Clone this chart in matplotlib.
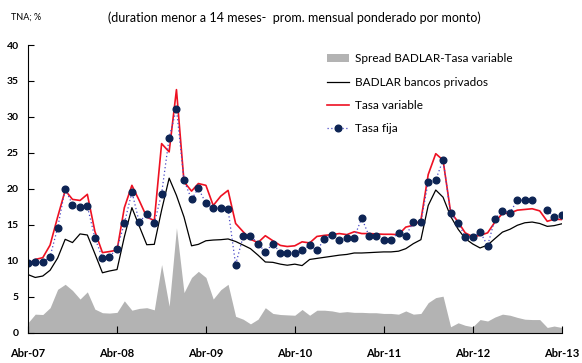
import numpy as np
import pandas as pd
import matplotlib
matplotlib.use("Agg")
import matplotlib.pyplot as plt

plt.rcParams['font.family'] = ['Lato', 'DejaVu Sans']

# monthly series, Abr-07 .. Abr-13
fechas = pd.date_range("2007-04-01", "2013-04-01", freq="MS")

tasa_fija = [9.7, 9.8, 9.8, 10.6, 14.6, 20.0, 17.8, 17.5, 17.6, 13.2, 10.4, 10.6,
             11.7, 15.2, 19.6, 15.4, 16.5, 15.2, 19.35, 27.1, 31.15, 21.2, 18.55, 20.1,
             18.0, 17.35, 17.3, 17.15, 9.5, 13.4, 13.5, 12.4, 11.25, 12.4, 11.15, 11.15,
             11.05, 11.5, 12.15, 11.45, 13.05, 13.6, 12.9, 13.25, 13.25, 15.95, 13.4, 13.4,
             12.95, 12.95, 13.9, 13.5, 15.4, 15.4, 21.0, 21.25, 24.05, 16.6, 15.3, 13.35,
             13.35, 14.05, 12.1, 15.85, 17.0, 16.7, 18.45, 18.4, 18.45, np.nan, 17.05, 16.05,
             16.35]

tasa_variable = [9.5, 10.2, 10.45, 12.2, 16.1, 19.8, 18.55, 18.4, 19.25, 14.1, 11.15, 11.3,
                 11.5, 17.4, 20.5, 18.4, 16.1, 15.6, 26.3, 25.15, 33.8, 21.0, 19.7, 20.75,
                 20.5, 17.7, 19.0, 19.8, 15.2, 14.05, 13.0, 12.55, 13.5, 12.8, 12.15, 12.0,
                 12.1, 12.65, 12.5, 13.4, 13.55, 13.65, 13.8, 13.65, 14.05, 13.8, 13.8, 13.75,
                 13.7, 13.7, 13.65, 14.7, 14.95, 15.65, 22.0, 24.9, 24.0, 16.8, 15.4, 13.9,
                 13.35, 13.55, 13.9, 15.4, 16.6, 16.65, 17.05, 17.15, 17.25, 16.95, 15.5, 15.8,
                 15.75]

badlar = [8.1, 7.7, 7.9, 8.7, 10.4, 13.0, 12.55, 13.75, 13.6, 11.0, 8.35, 8.6,
          8.8, 13.35, 17.4, 14.85, 12.25, 12.3, 17.05, 21.5, 19.1, 16.1, 12.1, 12.3,
          12.8, 12.9, 12.95, 13.05, 12.7, 12.2, 11.7, 10.8, 9.85, 9.8, 9.55, 9.4,
          9.55, 9.35, 10.2, 10.35, 10.5, 10.65, 10.8, 10.9, 11.1, 11.1, 11.15, 11.2,
          11.25, 11.25, 11.35, 11.7, 12.4, 12.95, 17.7, 19.85, 18.85, 16.2, 14.4, 13.1,
          12.35, 11.8, 12.2, 13.1, 14.0, 14.4, 14.95, 15.3, 15.4, 15.2, 14.8, 14.9,
          15.15]

spread = [1.4, 2.6, 2.55, 3.5, 6.05, 6.75, 5.9, 4.7, 5.7, 3.3, 2.8, 2.75,
          2.85, 4.45, 3.15, 3.4, 3.5, 3.2, 9.5, 3.7, 14.6, 5.6, 7.7, 8.55,
          7.7, 4.7, 6.0, 6.75, 2.3, 1.9, 1.25, 1.9, 3.5, 2.7, 2.55, 2.5,
          2.45, 3.25, 2.45, 3.15, 3.15, 3.05, 2.85, 2.95, 2.85, 2.85, 2.8, 2.8,
          2.7, 2.7, 2.6, 3.05, 2.6, 2.7, 4.2, 4.9, 5.1, 0.85, 1.4, 1.05,
          0.85, 1.85, 1.65, 2.2, 2.6, 2.45, 2.15, 1.9, 1.85, 1.85, 0.75, 0.95,
          0.75]

tick_fechas = pd.date_range("2007-04-01", "2013-04-01", freq="12MS")
tick_labels = ["Abr-07", "Abr-08", "Abr-09", "Abr-10", "Abr-11", "Abr-12", "Abr-13"]

fig = plt.figure(figsize=(5.82, 3.63), dpi=100)
ax = fig.add_axes([0.048, 0.083, 0.917, 0.793])

ax.fill_between(fechas, 0, spread, color='#b3b3b3', lw=0, label='Spread BADLAR-Tasa variable')
ax.plot(fechas, badlar, color='black', lw=0.9, label='BADLAR bancos privados')
ax.plot(fechas, tasa_variable, color='#ee1122', lw=1.2, label='Tasa variable')
ax.plot(fechas, tasa_fija, color='#4a4ac8', lw=0.9, ls=(0, (1, 2)),
        marker='o', ms=4.8, mfc='#0d2454', mec='#0d2454', label='Tasa fija')

ax.set_xlim(fechas[0], fechas[-1])
ax.set_ylim(0, 40)
ax.set_yticks(range(0, 41, 5))
ax.set_xticks(tick_fechas)
ax.set_xticklabels(tick_labels)

for s in ['top', 'right']:
    ax.spines[s].set_visible(False)
ax.spines['left'].set_linewidth(0.8)
ax.spines['bottom'].set_linewidth(0.8)
ax.tick_params(axis='y', direction='in', length=4, width=0.8, pad=6.5, labelsize=7.5)
ax.tick_params(axis='x', direction='in', length=5, width=0.8, pad=11, labelsize=8)
for lab in ax.get_xticklabels() + ax.get_yticklabels():
    lab.set_fontweight('bold')

ax.legend(loc='upper left', bbox_to_anchor=(0.545, 1.0), frameon=False,
          fontsize=8.5, labelspacing=1.05, handlelength=1.9, handletextpad=0.45,
          borderaxespad=0.3)

fig.text(0.019, 0.952, "TNA; %", fontsize=6.5, va='center')
fig.text(0.505, 0.952, "(duration menor a 14 meses-  prom. mensual ponderado por monto)",
         fontsize=9, ha='center', va='center')

fig.savefig("out.png", dpi=100)
